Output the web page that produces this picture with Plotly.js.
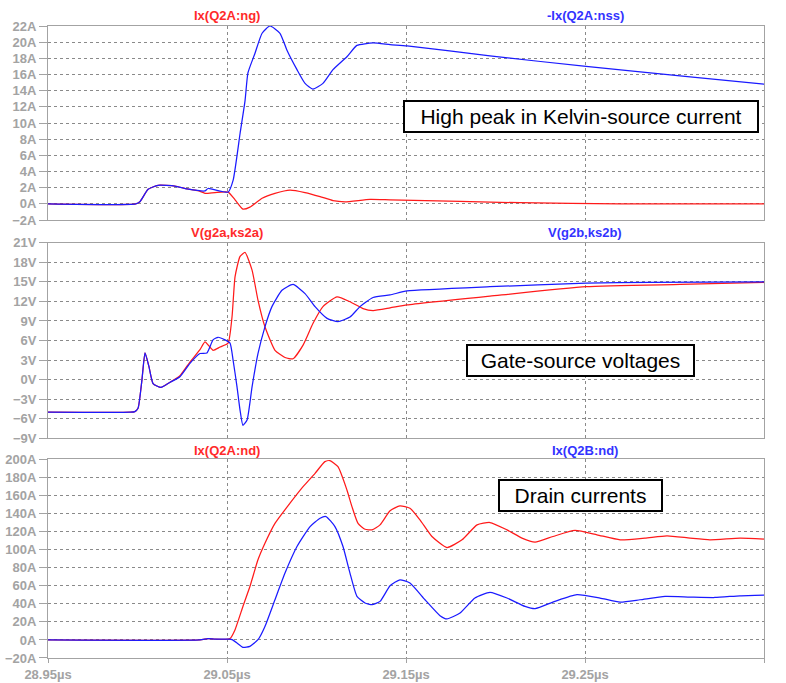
<!DOCTYPE html>
<html>
<head>
<meta charset="utf-8">
<script src="https://cdn.plot.ly/plotly-3.0.1.min.js"></script>
<style>
  html, body { margin: 0; padding: 0; background: #ffffff; }
  #chart { width: 786px; height: 683px; }
</style>
</head>
<body>
<div id="chart"></div>
<script>
// ---- Data (time in µs) ----
// Top panel: gate current and Kelvin-source current (A)
const tTopNg = [28.95, 28.999, 29.0015, 29.0059, 29.0115, 29.0209, 29.0277, 29.0349, 29.0377, 29.0433, 29.0506, 29.0545, 29.0589, 29.0628, 29.0696, 29.0768, 29.0852, 29.0936, 29.1020, 29.1092, 29.1159, 29.1299, 29.1411, 29.1802, 29.2137, 29.2696, 29.35];
const iTopNg = [0, 0, 0.3, 1.8, 2.3, 2.2, 1.85, 1.55, 1.3, 1.4, 1.45, 0.5, -0.65, -0.4, 0.7, 1.3, 1.7, 1.4, 0.9, 0.4, 0.26, 0.55, 0.5, 0.3, 0.14, 0.0, 0.0];

const tTopNss = [28.95, 28.999, 29.0015, 29.0059, 29.0115, 29.0209, 29.0277, 29.0377, 29.0394, 29.0506, 29.0534, 29.0573, 29.0601, 29.0617, 29.0656, 29.0696, 29.0740, 29.0796, 29.0835, 29.0891, 29.0936, 29.0980, 29.1036, 29.1092, 29.1170, 29.1226, 29.1316, 29.1411, 29.1506, 29.1969, 29.2506, 29.3087, 29.35];
const iTopNss = [0, 0, 0.3, 1.8, 2.3, 2.2, 1.85, 1.6, 1.9, 1.45, 2.9, 8.7, 12.8, 16.2, 18.6, 21.1, 22.0, 21.1, 19.0, 16.6, 14.9, 14.2, 14.9, 16.6, 18.2, 19.6, 19.9, 19.7, 19.55, 18.3, 17.0, 15.7, 14.8];

// Middle panel: gate-source voltages (V)
const tMidA = [28.95, 28.996, 28.9985, 29.0003, 29.0025, 29.0042, 29.0064, 29.0087, 29.0131, 29.0182, 29.0237, 29.0293, 29.0349, 29.0377, 29.0422, 29.0461, 29.0506, 29.0528, 29.0545, 29.0573, 29.0601, 29.0640, 29.0673, 29.0712, 29.0768, 29.0824, 29.0869, 29.0925, 29.0980, 29.1036, 29.1115, 29.1187, 29.1260, 29.1316, 29.1411, 29.1506, 29.1969, 29.2506, 29.3031, 29.35];
const vMidA = [-5, -5, -4.9, -4.4, 0, 4.1, 2.0, -0.6, -1.2, -0.4, 0.6, 2.7, 4.6, 5.8, 4.5, 5.0, 5.6, 9.6, 15.8, 18.9, 19.5, 16.8, 12.2, 8.1, 4.5, 3.4, 3.2, 5.3, 8.6, 11.2, 12.7, 11.95, 10.9, 10.6, 11.0, 11.45, 12.8, 14.25, 14.6, 14.9];

const tMidB = [28.95, 28.996, 28.9985, 29.0003, 29.0025, 29.0042, 29.0064, 29.0087, 29.0131, 29.0182, 29.0237, 29.0293, 29.0349, 29.0388, 29.0422, 29.0450, 29.0489, 29.0517, 29.0534, 29.0556, 29.0573, 29.0589, 29.0612, 29.0640, 29.0673, 29.0712, 29.0751, 29.0807, 29.0869, 29.0936, 29.0992, 29.1059, 29.1120, 29.1187, 29.1243, 29.1316, 29.1411, 29.1506, 29.1969, 29.2506, 29.2863, 29.35];
const vMidB = [-5, -5, -4.9, -4.4, 0, 4.1, 2.0, -0.6, -1.2, -0.4, 0.45, 2.5, 4.0, 4.1, 6.1, 6.5, 6.1, 5.6, 3.0, -1.1, -4.7, -7.0, -6.2, -1.1, 4.0, 8.1, 11.2, 13.7, 14.6, 13.2, 11.2, 9.4, 8.9, 9.6, 11.2, 12.6, 13.0, 13.6, 14.25, 14.8, 14.9, 15.0];

// Bottom panel: drain currents (A)
const tBotA = [28.95, 29.0349, 29.0394, 29.0433, 29.0505, 29.0517, 29.0545, 29.0589, 29.0628, 29.0673, 29.0712, 29.0768, 29.0852, 29.0925, 29.0992, 29.1047, 29.1075, 29.1120, 29.1170, 29.1198, 29.1232, 29.1271, 29.1310, 29.1355, 29.1411, 29.1466, 29.1522, 29.1578, 29.1645, 29.1729, 29.1813, 29.1897, 29.1969, 29.2064, 29.2148, 29.2221, 29.2321, 29.2444, 29.2567, 29.2696, 29.2835, 29.2958, 29.3087, 29.3198, 29.3366, 29.35];
const iBotA = [0, 0, 1.5, 1, 0.8, 1.5, 11.4, 37.1, 59.2, 88.7, 107, 129, 151.4, 169.7, 184.5, 197.4, 198.6, 191.8, 166, 147.6, 129, 122.6, 121.9, 127.4, 143, 148.4, 145.8, 133, 114.5, 102.3, 110.8, 127.4, 130, 121.9, 112.7, 108.3, 114.5, 121.2, 116.4, 110.8, 112.7, 115.3, 112.7, 110.8, 112.7, 111.7];

const tBotB = [28.95, 29.0349, 29.0394, 29.0433, 29.0515, 29.0528, 29.0556, 29.0589, 29.0628, 29.0673, 29.0712, 29.0768, 29.0824, 29.0891, 29.0964, 29.1020, 29.1053, 29.1103, 29.1148, 29.1187, 29.1226, 29.1271, 29.1310, 29.1355, 29.1411, 29.1466, 29.1522, 29.1606, 29.1690, 29.1729, 29.1802, 29.1885, 29.1969, 29.2064, 29.2165, 29.2221, 29.2332, 29.2455, 29.2584, 29.2696, 29.2807, 29.2947, 29.3087, 29.3226, 29.3366, 29.35];
const iBotB = [0, 0, 1.5, 1, 0.8, 0.3, -3.3, -8.2, -7.1, 0.3, 15, 44.5, 74, 103.4, 125.5, 134.8, 136.6, 125.5, 103.4, 74, 48.2, 40.9, 39, 42.7, 60, 66.6, 63, 44.5, 26.8, 23.2, 29.8, 46.4, 52.6, 46.4, 37.1, 34.6, 42.7, 50.1, 46.4, 41.9, 44.5, 48.2, 47.5, 47, 48.9, 49.7];

// Labels
const traceNames = ['Ix(Q2A:ng)', '-Ix(Q2A:nss)', 'V(g2a,ks2a)', 'V(g2b,ks2b)', 'Ix(Q2A:nd)', 'Ix(Q2B:nd)'];
const boxTexts = ['High peak in Kelvin-source current', 'Gate-source voltages', 'Drain currents'];
const xTickVals = [28.95, 29.05, 29.15, 29.25, 29.35];
const xTickText = ['28.95µs', '29.05µs', '29.15µs', '29.25µs', '29.35µs'];

// ---- Styles ----
const RED = '#ff1a1a', BLUE = '#1a1aff';
const RED_T = '#ff2a2a', BLUE_T = '#3333ff';
const GRAY = '#a3a3a3', GRID = '#8a8a8a';
const FONT = 'Liberation Sans, Arial, sans-serif';

function line(x, y, color, xa, ya) {
  return { x: x, y: y, xaxis: xa, yaxis: ya, type: 'scatter', mode: 'lines',
    line: { color: color, width: 1.25, shape: 'spline', smoothing: 0.5 },
    hoverinfo: 'skip', showlegend: false };
}

const data = [
  line(tTopNg, iTopNg, RED, 'x', 'y'),
  line(tTopNss, iTopNss, BLUE, 'x', 'y'),
  line(tMidA, vMidA, RED, 'x2', 'y2'),
  line(tMidB, vMidB, BLUE, 'x2', 'y2'),
  line(tBotA, iBotA, RED, 'x3', 'y3'),
  line(tBotB, iBotB, BLUE, 'x3', 'y3')
];

function xAxis(anchor, labels) {
  return {
    anchor: anchor, domain: [0, 1], range: [28.95, 29.35],
    tickmode: 'array', tickvals: xTickVals, ticktext: xTickText,
    showticklabels: labels, ticks: labels ? 'outside' : '', ticklen: 4, tickcolor: GRAY,
    showgrid: true, gridcolor: GRID, griddash: '3px,3px', gridwidth: 1,
    showline: true, linecolor: GRAY, linewidth: 1, mirror: true,
    zeroline: false, fixedrange: true,
    tickfont: { family: FONT, size: 13, color: GRAY, weight: 'bold' }
  };
}
function yAxis(anchor, domain, range, dtick, suffix) {
  return {
    anchor: anchor, domain: domain, range: range, tick0: range[0], dtick: dtick,
    ticksuffix: suffix, ticks: 'outside', ticklen: 8, tickcolor: GRAY,
    showgrid: true, gridcolor: GRID, griddash: '3px,3px', gridwidth: 1,
    showline: true, linecolor: GRAY, linewidth: 1, mirror: true,
    zeroline: false, fixedrange: true,
    tickfont: { family: FONT, size: 13, color: GRAY, weight: 'bold' }
  };
}

function title(text, x, y, color) {
  return { text: text, x: x, y: y, xref: 'x', yref: 'paper', showarrow: false,
    xanchor: 'center', yanchor: 'middle',
    font: { family: FONT, size: 13, color: color, weight: 'bold' } };
}
function box(text, y, w) {
  return { text: text, x: 29.2475, y: y, xref: 'x', yref: 'paper', showarrow: false,
    xanchor: 'center', yanchor: 'middle', width: w, height: 27,
    bgcolor: '#ffffff', bordercolor: '#000000', borderwidth: 2, borderpad: 1,
    font: { family: FONT, size: 21, color: '#000000' } };
}

const layout = {
  width: 786, height: 683,
  margin: { l: 48, r: 22, t: 26, b: 25, pad: 0 },
  paper_bgcolor: '#ffffff', plot_bgcolor: '#ffffff',
  showlegend: false,
  xaxis: xAxis('y', false),
  xaxis2: Object.assign(xAxis('y2', false), { matches: 'x' }),
  xaxis3: Object.assign(xAxis('y3', true), { matches: 'x' }),
  yaxis: yAxis('x', [0.693, 1], [-2, 22], 2, 'A'),
  yaxis2: yAxis('x2', [0.3476, 0.6571], [-9, 21], 3, 'V'),
  yaxis3: yAxis('x3', [0, 0.3144], [-20, 200], 20, 'A'),
  annotations: [
    title(traceNames[0], 29.05, 1.0174, RED_T),
    title(traceNames[1], 29.25, 1.0174, BLUE_T),
    title(traceNames[2], 29.05, 0.6725, RED_T),
    title(traceNames[3], 29.25, 0.6725, BLUE_T),
    title(traceNames[4], 29.05, 0.3291, RED_T),
    title(traceNames[5], 29.25, 0.3291, BLUE_T),
    box(boxTexts[0], 0.8568, 350),
    box(boxTexts[1], 0.4715, 223),
    box(boxTexts[2], 0.2579, 159)
  ]
};

Plotly.newPlot('chart', data, layout, { staticPlot: true, displayModeBar: false });
</script>
</body>
</html>
